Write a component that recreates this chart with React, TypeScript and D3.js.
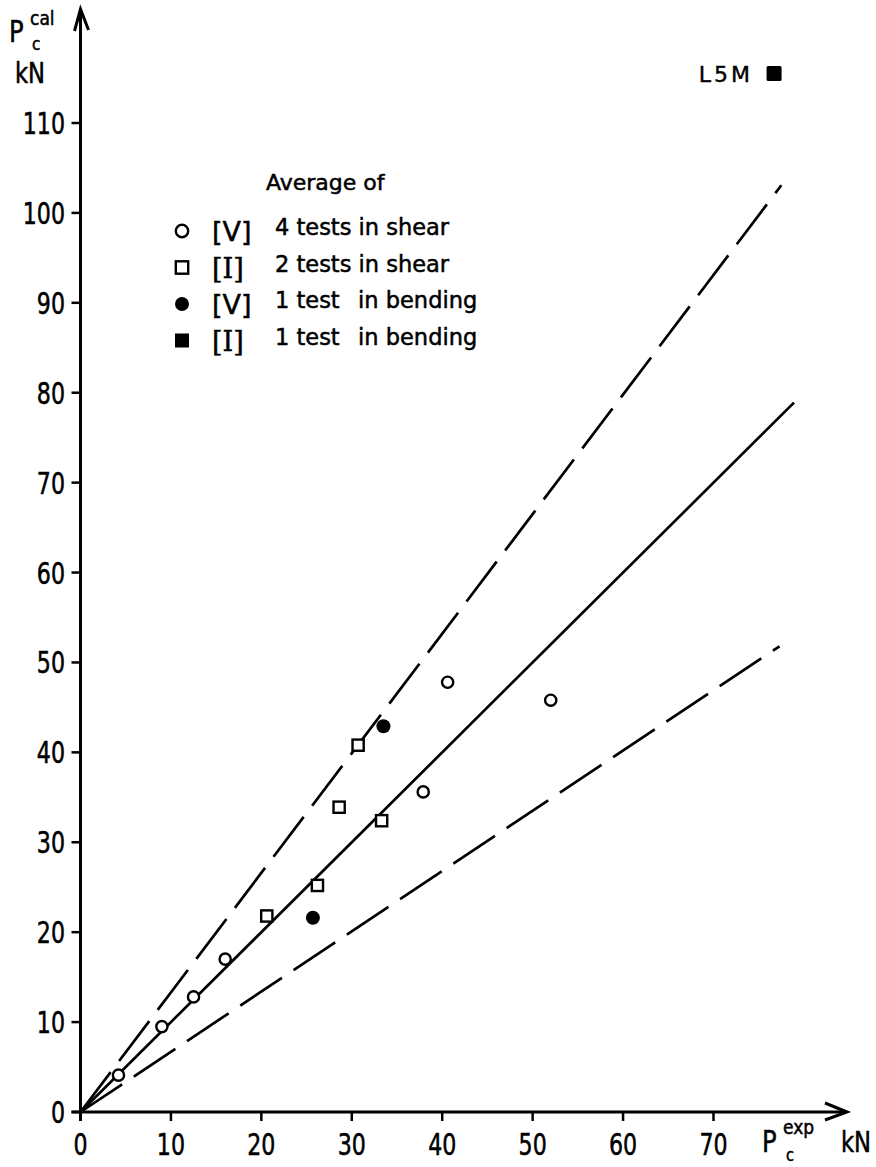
import React from "react";
import * as d3 from "d3";

// ---- data ----
const xTicks = [0, 10, 20, 30, 40, 50, 60, 70];
const yTicks = [0, 10, 20, 30, 40, 50, 60, 70, 80, 90, 100, 110];

// [V] 4 tests in shear (open circles)
const shearV = [
  { x: 4.2, y: 4.1 },
  { x: 9.0, y: 9.5 },
  { x: 12.5, y: 12.8 },
  { x: 16.0, y: 17.0 },
  { x: 37.9, y: 35.6 },
  { x: 40.6, y: 47.8 },
  { x: 52.0, y: 45.8 },
];
// [I] 2 tests in shear (open squares)
const shearI = [
  { x: 20.6, y: 21.8 },
  { x: 26.2, y: 25.2 },
  { x: 28.6, y: 33.9 },
  { x: 30.7, y: 40.8 },
  { x: 33.3, y: 32.4 },
];
// [V] 1 test in bending (filled circles)
const bendV = [
  { x: 25.7, y: 21.6 },
  { x: 33.5, y: 42.9 },
];
// [I] 1 test in bending (filled square)
const bendI = [{ x: 76.7, y: 115.5, label: "L5M" }];

// reference lines: slope and x extent
const refLines = [
  { name: "upper", slope: 1.33, xEnd: 77.5, dashed: true },
  { name: "equal", slope: 1.0, xEnd: 78.9, dashed: false },
  { name: "lower", slope: 0.67, xEnd: 77.3, dashed: true },
];

const legendRows = [
  { symbol: "circle", filled: false, tag: "V", text: "4 tests in shear" },
  { symbol: "square", filled: false, tag: "I", text: "2 tests in shear" },
  { symbol: "circle", filled: true, tag: "V", text: "1 test\u2002 in bending" },
  { symbol: "square", filled: true, tag: "I", text: "1 test\u2002 in bending" },
];

const COND = "'DejaVu Sans Condensed', 'DejaVu Sans', sans-serif";
const SANS = "'DejaVu Sans', 'Liberation Sans', sans-serif";

function NarrowText(props: {
  x: number;
  y: number;
  size: number;
  anchor?: string;
  sx?: number;
  children: any;
}) {
  const sx = props.sx ?? 0.82;
  return (
    <g transform={`translate(${props.x},${props.y}) scale(${sx},1)`}>
      <text
        x={0}
        y={0}
        textAnchor={props.anchor || "start"}
        fontFamily={COND}
        fontSize={props.size}
        stroke="#000"
        strokeWidth={0.5}
      >
        {props.children}
      </text>
    </g>
  );
}

export default function App() {
  const x = d3.scaleLinear().domain([0, 70]).range([80.5, 713.5]);
  const y = d3.scaleLinear().domain([0, 110]).range([1112, 123]);
  const seg = d3.line();

  const x0 = x(0);
  const y0 = y(0);

  return (
    <svg
      width={876}
      height={1167}
      style={{ position: "absolute", left: 0, top: 0, background: "#fff" }}
    >
      <rect x={0} y={0} width={876} height={1167} fill="#fff" />
      {/* reference lines */}
      {refLines.map((l) => (
        <path
          key={l.name}
          d={
            seg([
              [x(0), y(0)],
              [x(l.xEnd), y(l.slope * l.xEnd)],
            ]) as string
          }
          fill="none"
          stroke="#000"
          strokeWidth={2.7}
          strokeDasharray={l.dashed ? "50 14" : undefined}
        />
      ))}

      {/* axes */}
      <line x1={x0} y1={y0 + 9} x2={x0} y2={9} stroke="#000" strokeWidth={3} />
      <line x1={x0 - 9} y1={y0} x2={846} y2={y0} stroke="#000" strokeWidth={3} />
      <path
        d={`M${x0 - 6},31 L${x0},9 L${x0 + 8},30`}
        fill="none"
        stroke="#000"
        strokeWidth={3}
      />
      <path
        d={`M825,${y0 - 9} L847,${y0} L825,${y0 + 8}`}
        fill="none"
        stroke="#000"
        strokeWidth={3}
      />

      {/* x ticks */}
      {xTicks.map((t) => (
        <g key={"xt" + t}>
          <line x1={x(t)} x2={x(t)} y1={y0} y2={y0 + 9} stroke="#000" strokeWidth={2.5} />
          <NarrowText x={x(t)} y={1155} size={30} anchor="middle">
            {t}
          </NarrowText>
        </g>
      ))}
      {/* y ticks */}
      {yTicks.map((t) => (
        <g key={"yt" + t}>
          <line x1={x0 - 9} x2={x0} y1={y(t)} y2={y(t)} stroke="#000" strokeWidth={2.5} />
          <NarrowText x={65} y={y(t) + 11} size={30} anchor="end">
            {t}
          </NarrowText>
        </g>
      ))}

      {/* axis titles */}
      <NarrowText x={9} y={42} size={30} sx={0.9}>P</NarrowText>
      <NarrowText x={30} y={25} size={20} sx={0.95}>cal</NarrowText>
      <NarrowText x={32} y={50} size={18} sx={0.95}>c</NarrowText>
      <NarrowText x={15} y={83} size={28} sx={0.9}>kN</NarrowText>

      <NarrowText x={762} y={1152} size={30} sx={0.9}>P</NarrowText>
      <NarrowText x={783} y={1134} size={20} sx={0.95}>exp</NarrowText>
      <NarrowText x={786} y={1161} size={17} sx={0.95}>c</NarrowText>
      <NarrowText x={841} y={1152} size={28} sx={0.9}>kN</NarrowText>

      {/* data points */}
      {shearV.map((d, i) => (
        <circle key={"sv" + i} cx={x(d.x)} cy={y(d.y)} r={5.6} fill="#fff" stroke="#000" strokeWidth={2.4} />
      ))}
      {shearI.map((d, i) => (
        <rect
          key={"si" + i}
          x={x(d.x) - 5.6}
          y={y(d.y) - 5.6}
          width={11.2}
          height={11.2}
          fill="#fff"
          stroke="#000"
          strokeWidth={2.4}
        />
      ))}
      {bendV.map((d, i) => (
        <circle key={"bv" + i} cx={x(d.x)} cy={y(d.y)} r={7} fill="#000" />
      ))}
      {bendI.map((d, i) => (
        <g key={"bi" + i}>
          <rect x={x(d.x) - 7.5} y={y(d.y) - 7.5} width={15} height={15} fill="#000" rx={1.5} />
          <text
            x={x(d.x) - 21}
            y={y(d.y) + 8.5}
            textAnchor="end"
            fontFamily={SANS}
            fontSize={22}
            letterSpacing={3}
            stroke="#000"
            strokeWidth={0.4}
          >
            {d.label}
          </text>
        </g>
      ))}

      {/* legend */}
      <g fontFamily={SANS} stroke="#000" strokeWidth={0.5}>
        <text x={266} y={190} fontSize={22}>Average of</text>
        {legendRows.map((r, i) => {
          const cy = 231 + i * 36.5;
          const sx = 182;
          return (
            <g key={"lg" + i}>
              {r.symbol === "circle" ? (
                <circle cx={sx} cy={cy} r={r.filled ? 7 : 6.2} fill={r.filled ? "#000" : "#fff"} stroke="#000" strokeWidth={r.filled ? 0 : 2.4} />
              ) : (
                <rect
                  x={sx - (r.filled ? 7 : 6.2)}
                  y={cy - (r.filled ? 7 : 6.2)}
                  width={r.filled ? 14 : 12.4}
                  height={r.filled ? 14 : 12.4}
                  fill={r.filled ? "#000" : "#fff"}
                  stroke="#000"
                  strokeWidth={r.filled ? 0 : 2.4}
                />
              )}
              <text x={212} y={cy + 10} fontSize={27} fontFamily={r.tag === "I" ? "'DejaVu Serif', serif" : SANS}>
                [{r.tag}]
              </text>
              <text x={275} y={cy + 4} fontSize={22.5}>
                {r.text}
              </text>
            </g>
          );
        })}
      </g>
    </svg>
  );
}
